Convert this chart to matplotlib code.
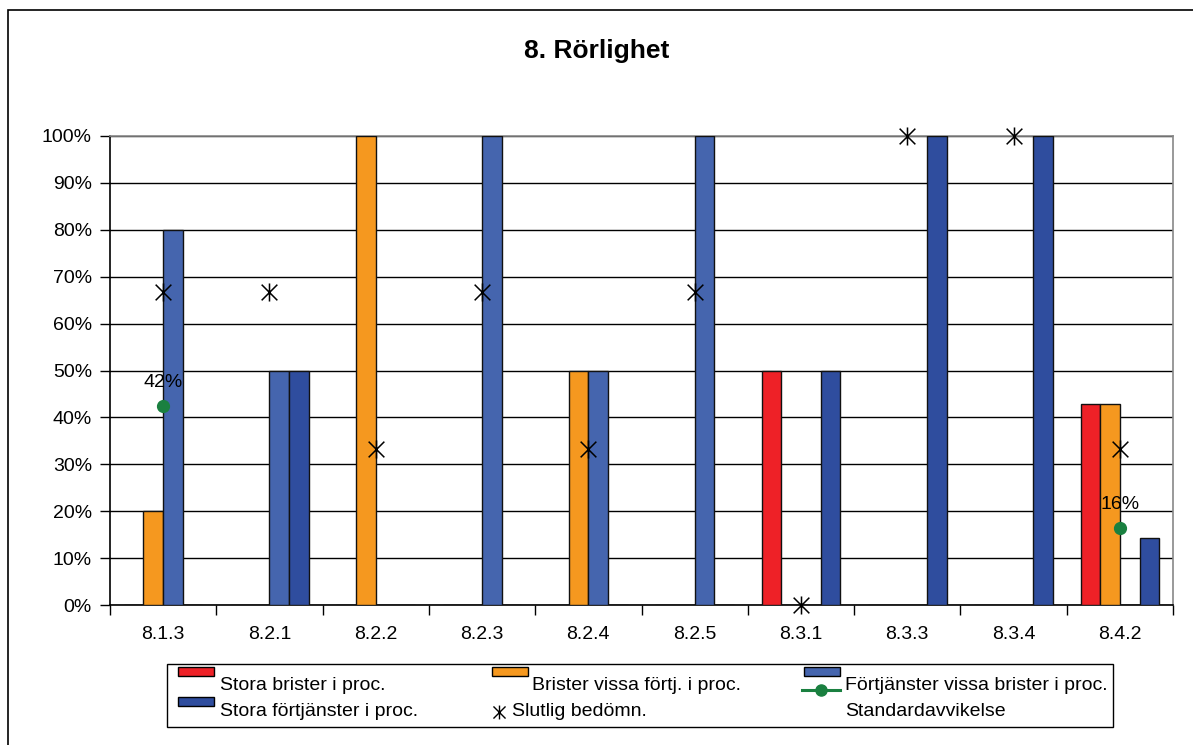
import matplotlib
matplotlib.use("Agg")
import matplotlib.pyplot as plt
import numpy as np
from matplotlib.patches import Rectangle
from matplotlib.lines import Line2D
from matplotlib.path import Path
from matplotlib.ticker import FixedLocator, PercentFormatter

plt.rcParams['font.family'] = ['Liberation Sans', 'DejaVu Sans']

categories = ["8.1.3", "8.2.1", "8.2.2", "8.2.3", "8.2.4", "8.2.5", "8.3.1", "8.3.3", "8.3.4", "8.4.2"]
stora_brister = [0, 0, 0, 0, 0, 0, 50, 0, 0, 42.86]
brister_vissa = [20, 0, 100, 0, 50, 0, 0, 0, 0, 42.86]
fortjanster_vissa = [80, 50, 0, 100, 50, 100, 0, 0, 0, 0]
stora_fortjanster = [0, 50, 0, 0, 0, 0, 50, 100, 100, 14.29]
slutlig = [66.7, 66.7, 33.3, 66.7, 33.3, 66.7, 0, 100, 100, 33.3]
std_idx = [0, 9]
std_vals = [42.4, 16.4]

series_names = ["Stora brister i proc.", "Brister vissa förtj. i proc.",
                "Förtjänster vissa brister i proc.", "Stora förtjänster i proc."]
slutlig_name = "Slutlig bedömn."
std_name = "Standardavvikelse"
series_colors = ["#ee2127", "#f5981f", "#4565ae", "#2f4d9e"]
series_data = [stora_brister, brister_vissa, fortjanster_vissa, stora_fortjanster]
green = "#1a8040"

W, H = 1193, 745
fig = plt.figure(figsize=(W / 100, H / 100), dpi=100)


def fx(px):
    return px / W


def fy(py):
    return 1 - py / H


# X with a vertical bar, as used for the final assessment marker
star_marker = Path([(-1, -1), (1, 1), (-1, 1), (1, -1), (0, -1.15), (0, 1.15)],
                   [Path.MOVETO, Path.LINETO, Path.MOVETO, Path.LINETO, Path.MOVETO, Path.LINETO])

# outer chart border
fig.patches.append(Rectangle((fx(8), -0.01), 1.05, fy(10) + 0.01, transform=fig.transFigure,
                             fill=False, edgecolor="black", linewidth=1.2))

ax = fig.add_axes([fx(110), fy(605), fx(1173) - fx(110), fy(136) - fy(605)])

x = np.arange(len(categories))
bw = 0.185
offsets = [-1.5, -0.5, 0.5, 1.5]
for vals, name, col, off in zip(series_data, series_names, series_colors, offsets):
    ax.bar(x + off * bw, vals, width=bw, color=col, edgecolor="#111111", linewidth=1.0,
           label=name, zorder=3)

ax.plot(x, slutlig, linestyle="none", marker=star_marker, markersize=13,
        markeredgecolor="black", markeredgewidth=1.1, color="black",
        label=slutlig_name, zorder=5, clip_on=False)

sx = [x[i] for i in std_idx]
ax.plot(sx, std_vals, linestyle="none", marker="o", markersize=8.5,
        color=green, label=std_name, zorder=6)
for xi, v in zip(sx, std_vals):
    ax.annotate(f"{v:.0f}%", (xi, v), xytext=(0, 11), textcoords="offset points",
                ha="center", va="bottom", fontsize=14, zorder=7)

ax.set_xlim(-0.5, len(categories) - 0.5)
ax.set_ylim(0, 100)
ax.yaxis.set_major_locator(FixedLocator(np.arange(0, 101, 10)))
ax.yaxis.set_major_formatter(PercentFormatter(decimals=0))
ax.set_xticks(x)
ax.set_xticklabels(categories)
ax.set_xticks(np.arange(-0.5, len(categories), 1.0), minor=True)
ax.tick_params(axis="x", which="major", length=0, pad=15, labelsize=14)
ax.tick_params(axis="x", which="minor", length=7, width=1, color="black")
ax.tick_params(axis="y", length=7, width=1, pad=6, labelsize=14)
ax.grid(axis="y", color="black", linewidth=1.0, zorder=0)
ax.set_axisbelow(True)
for s in ["top", "right"]:
    ax.spines[s].set_color("#888888")
    ax.spines[s].set_linewidth(1.2)
for s in ["left", "bottom"]:
    ax.spines[s].set_color("black")
    ax.spines[s].set_linewidth(1.2)

fig.text(0.5, fy(51), "8. Rörlighet", ha="center", va="center",
         fontsize=19, fontweight="bold")

# legend box, laid out as a three-column grid
fig.patches.append(Rectangle((fx(167), fy(727)), fx(1113) - fx(167), fy(664) - fy(727),
                             transform=fig.transFigure, facecolor="white",
                             edgecolor="black", linewidth=1.0, zorder=10))
leg_fs = 14
row_text = [685, 712]
row_patch = [667, 697]
patch_w, patch_h = 36, 9

legend_entries = [
    # (kind, colour, label, patch_x, text_x, row)
    ("bar", series_colors[0], series_names[0], 178, 220, 0),
    ("bar", series_colors[1], series_names[1], 492, 532, 0),
    ("bar", series_colors[2], series_names[2], 804, 845, 0),
    ("bar", series_colors[3], series_names[3], 178, 220, 1),
    ("star", "black", slutlig_name, 499, 512, 1),
    ("std", green, std_name, 804, 845, 1),
]
for kind, col, label, px, tx, row in legend_entries:
    if kind == "bar":
        fig.patches.append(Rectangle((fx(px), fy(row_patch[row] + patch_h)), patch_w / W, patch_h / H,
                                     transform=fig.transFigure, facecolor=col,
                                     edgecolor="black", linewidth=1.0, zorder=11))
    elif kind == "star":
        fig.lines.append(Line2D([fx(px)], [fy(row_text[row])], transform=fig.transFigure,
                                linestyle="none", marker=star_marker, markersize=10,
                                markeredgecolor="black", markeredgewidth=1.0, zorder=11))
    else:
        ly = fy(row_patch[0] + patch_h + 14)
        fig.lines.append(Line2D([fx(px - 2), fx(px + patch_w)], [ly, ly], transform=fig.transFigure,
                                color=col, linewidth=2.2, marker=None, zorder=11))
        fig.lines.append(Line2D([fx(px + patch_w / 2 - 1)], [ly], transform=fig.transFigure,
                                linestyle="none", marker="o", markersize=8, color=col, zorder=12))
    fig.text(fx(tx), fy(row_text[row]), label, ha="left", va="center",
             fontsize=leg_fs, zorder=12)

fig.savefig("out.png", dpi=100)
